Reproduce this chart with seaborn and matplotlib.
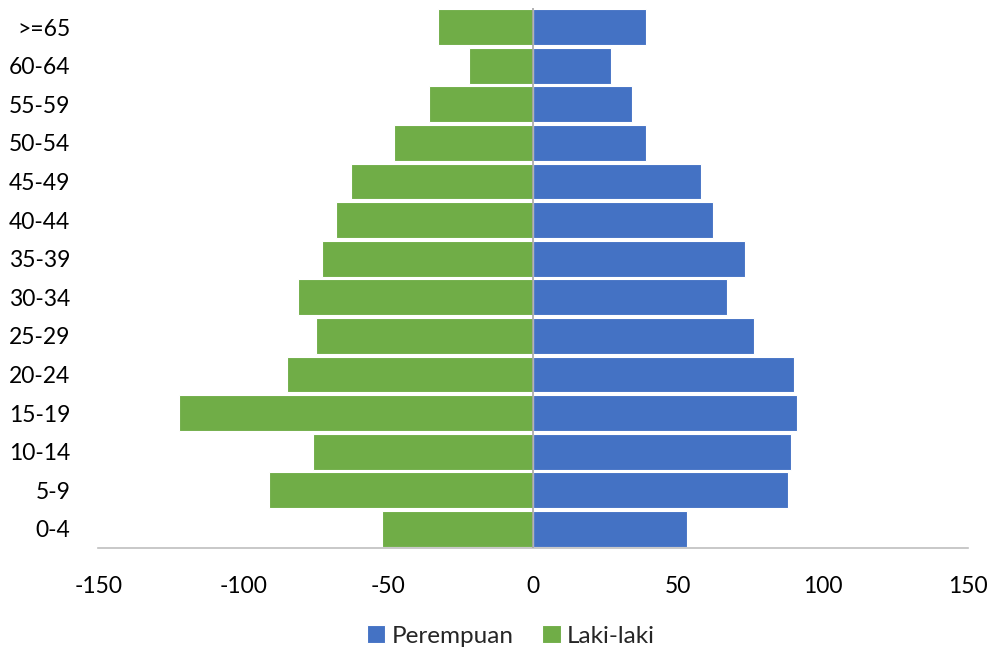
import seaborn as sns
import matplotlib.pyplot as plt
import pandas as pd

# kelompok umur, dari atas ke bawah
umur = [">=65", "60-64", "55-59", "50-54", "45-49", "40-44", "35-39",
        "30-34", "25-29", "20-24", "15-19", "10-14", "5-9", "0-4"]
perempuan = [39, 27, 34, 39, 58, 62, 73, 67, 76, 90, 91, 89, 88, 53]
laki_laki = [-33, -22, -36, -48, -63, -68, -73, -81, -75, -85, -122, -76, -91, -52]

df = pd.DataFrame({
    "umur": umur * 2,
    "jumlah": perempuan + laki_laki,
    "jenis": ["Perempuan"] * len(umur) + ["Laki-laki"] * len(umur),
})

sns.set_style("white")
plt.rcParams["font.family"] = ["Lato", "DejaVu Sans"]
plt.rcParams["axes.unicode_minus"] = False

fig, ax = plt.subplots(figsize=(9.92, 6.51), dpi=100)
fig.subplots_adjust(left=0.099, right=0.976, top=0.988, bottom=0.158)

sns.barplot(data=df, y="umur", x="jumlah", hue="jenis", order=umur,
            hue_order=["Perempuan", "Laki-laki"],
            palette={"Perempuan": "#4472C4", "Laki-laki": "#70AD47"},
            saturation=1, dodge=False, width=0.93, orient="h",
            edgecolor="white", linewidth=0.8, ax=ax)

ax.axvline(0, color="#A6A6A6", lw=1.2, zorder=5)
ax.set_xlim(-150, 150)
ax.set_xticks([-150, -100, -50, 0, 50, 100, 150])
ax.set_ylim(len(umur) - 0.5, -0.5)
ax.set_xlabel("")
ax.set_ylabel("")
for s in ["top", "right", "left"]:
    ax.spines[s].set_visible(False)
ax.spines["bottom"].set_color("#BFBFBF")
ax.spines["bottom"].set_linewidth(1.2)
ax.tick_params(axis="x", length=0, pad=20, labelsize=16.5, colors="black")
ax.tick_params(axis="y", length=0, pad=20, labelsize=16.5, colors="black")

ax.get_legend().remove()
handles, labels = ax.get_legend_handles_labels()
fig.legend(handles[:2], labels[:2], loc="center", bbox_to_anchor=(0.515, 0.023),
           ncol=2, frameon=False, fontsize=17.5, handlelength=0.75, handleheight=0.75,
           handletextpad=0.25, columnspacing=1.2)

fig.savefig("out.png", dpi=100)
